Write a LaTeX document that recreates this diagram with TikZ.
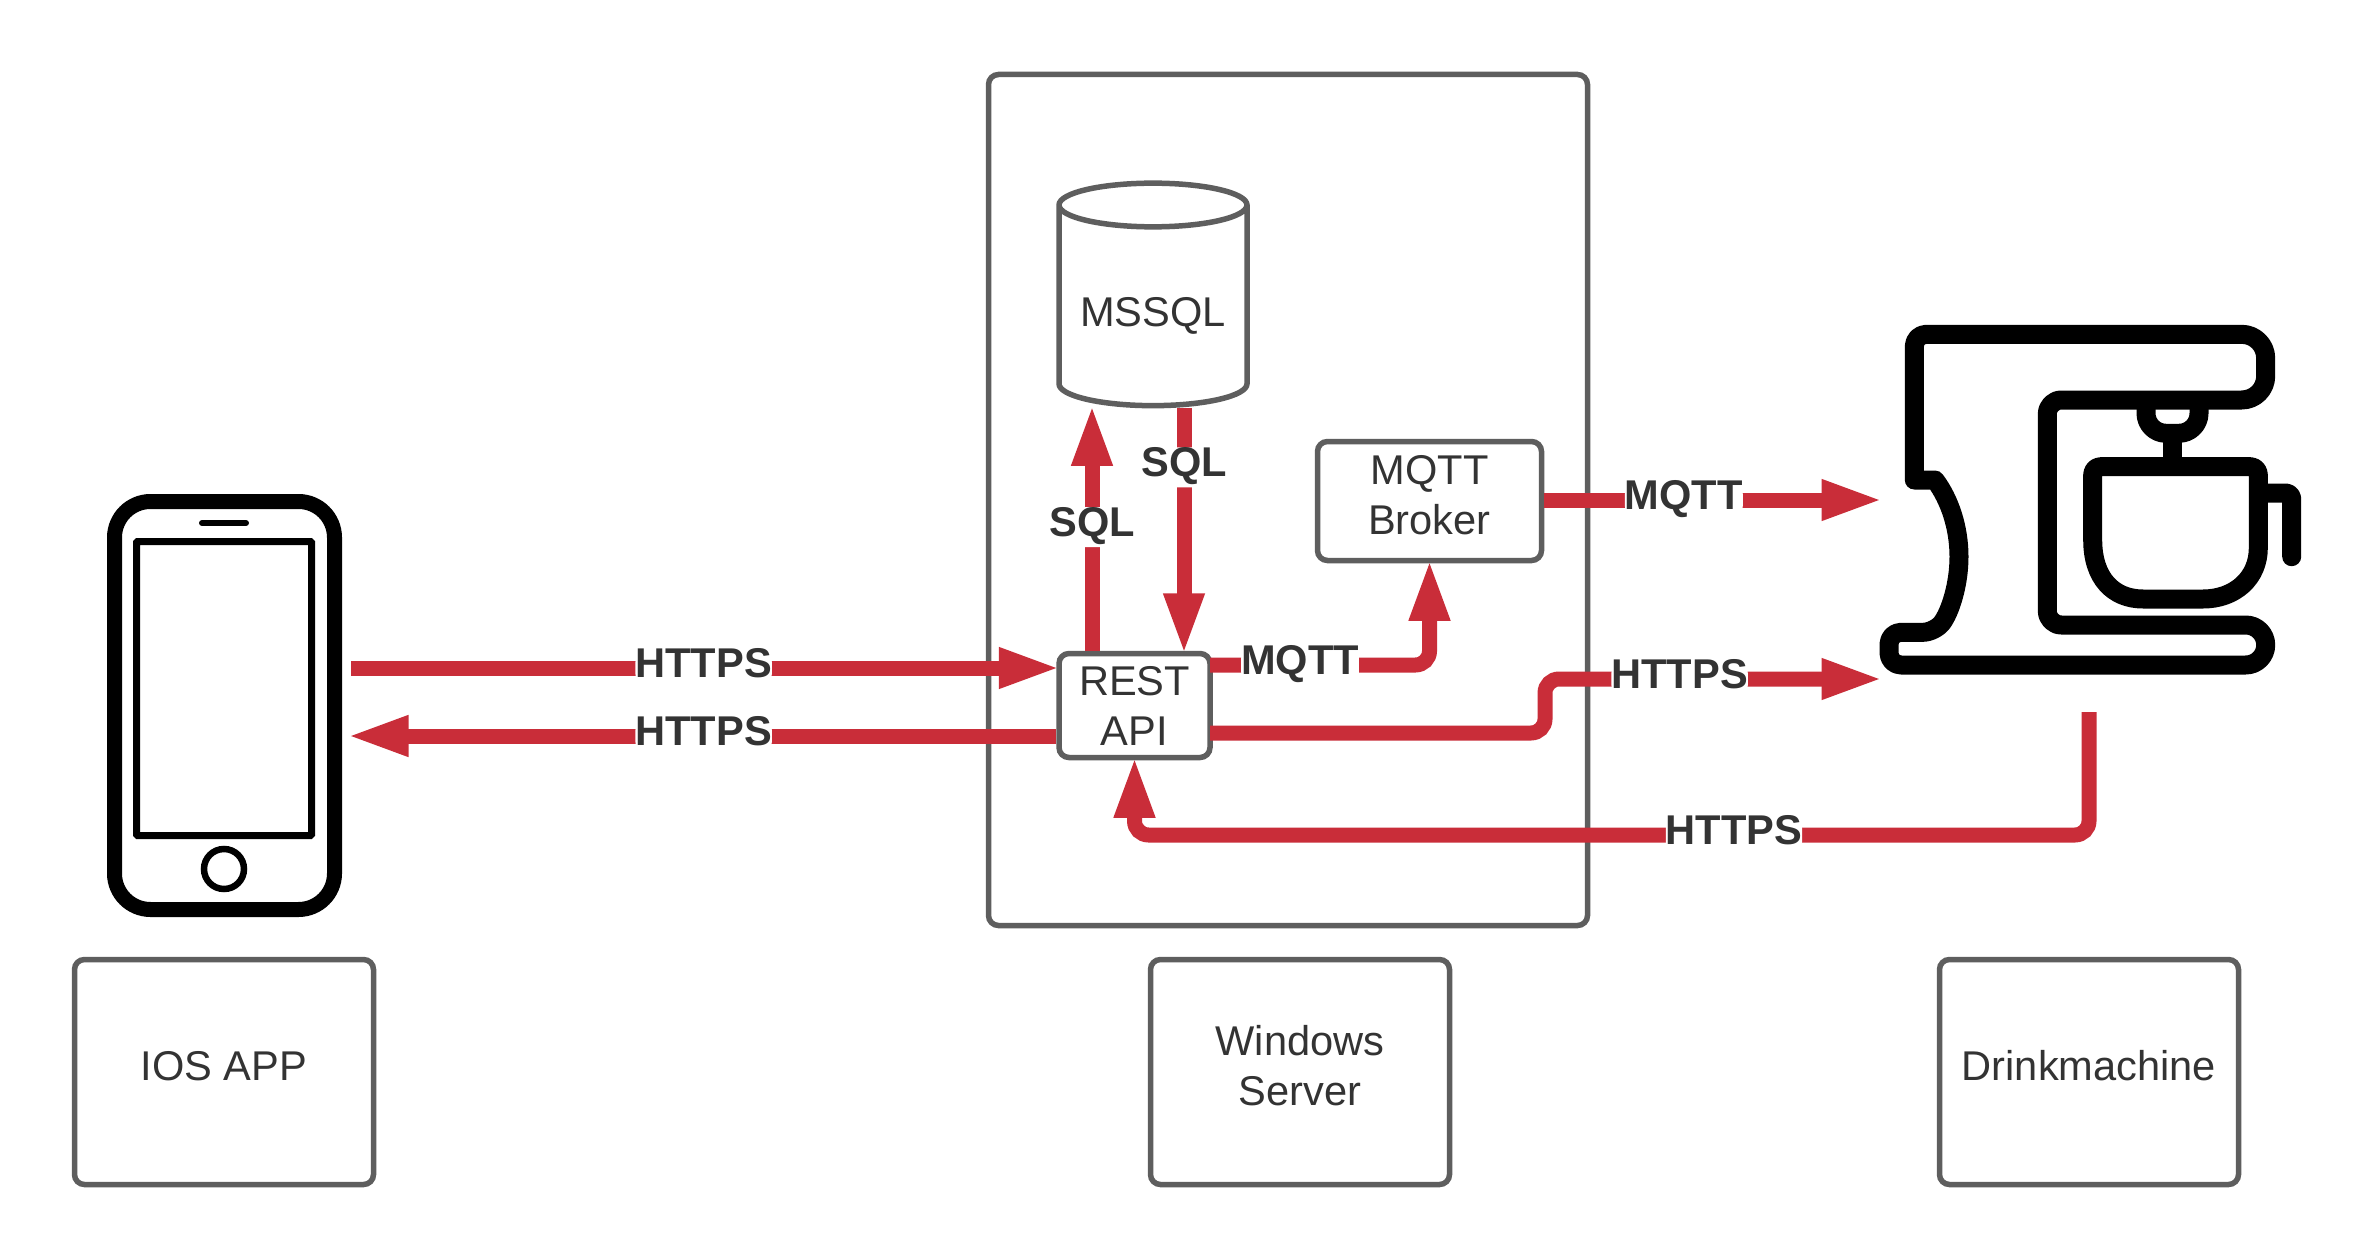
\documentclass[tikz,border=0pt]{standalone}
\usepackage{fontspec}
\setmainfont{Liberation Sans}
\usetikzlibrary{arrows.meta,shapes.geometric}
\definecolor{rouge}{RGB}{201,45,57}
\definecolor{gris}{RGB}{94,94,94}
\definecolor{encre}{RGB}{51,51,51}
\begin{document}
\begin{tikzpicture}[x=1pt,y=-1pt]
% Styles
\tikzstyle{boite}=[draw=gris,line width=5.5pt,rounded corners=10pt,fill=white,text=encre,inner sep=0pt,align=center,font=\fontsize{41.6}{50}\selectfont]
\tikzstyle{base}=[boite,rounded corners=0pt,shape=cylinder,shape border rotate=90,aspect=0.3,minimum width=188pt,minimum height=222.5pt,text height=48pt]
\tikzstyle{legende}=[boite,minimum width=299pt,minimum height=225pt,text depth=13pt]
\tikzstyle{fleche}=[rouge,line width=15pt,rounded corners=14pt,shorten >=-4.5pt,-{Triangle[length=62pt,width=37pt]}]
\tikzstyle{etiquette}=[fill=white,text=encre,inner sep=0pt,text height=29pt,text depth=11pt,font=\fontsize{41.6}{50}\selectfont\bfseries]
\tikzstyle{icone}=[black,line width=19pt,line join=round]
\useasboundingbox (0,0) rectangle (2378,1260);
% Serveur
\node[boite,minimum width=599pt,minimum height=851pt] (serveur) at (1288,500) {};
\node[base] (mssql) at (1153,306.7) {MSSQL};
\node[boite,minimum width=224pt,minimum height=119pt,text depth=13pt] (broker) at (1429.5,501) {MQTT\\Broker};
\node[boite,minimum width=151pt,minimum height=104pt] (rest) at (1134.5,705.5) {REST\\API};
% Legendes
\node[legende] (lgapp) at (224,1072) {IOS APP};
\node[legende] (lgserveur) at (1300,1072) {Windows\\Server};
\node[legende] (lgmachine) at (2089,1072) {Drinkmachine};
% Telephone
\node[draw=black,line width=15pt,rounded corners=36pt,minimum width=220pt,minimum height=408pt] (telephone) at (224.5,705.5) {};
\node[draw=black,line width=7pt,rounded corners=1pt,minimum width=175pt,minimum height=294pt] (ecran) at (224,688.5) {};
\node[draw=black,line width=6.5pt,circle,minimum size=40pt,inner sep=0pt] (bouton) at (224,869) {};
\draw[black,line width=6pt,line cap=round] (202,523) -- (246,523);
% Machine
\draw[icone,rounded corners=12pt] (1914.3,480) -- (1914.3,334.3) -- (2100,334.3)
  [rounded corners=24pt] -- (2265.7,334.3) -- (2265.7,400) [rounded corners=14pt] -- (2047.3,400) -- (2047.3,625)
  [rounded corners=20pt] -- (2265.7,625) -- (2265.7,665) [rounded corners=12pt] -- (1889,665) -- (1889,632.3) -- (1935,632.3)
  [sharp corners] .. controls (1950,612) and (1959,585) .. (1959,556.7) .. controls (1959,528) and (1950,500) .. (1935,480) -- cycle;
\draw[icone,rounded corners=8pt] (2092.7,540) -- (2092.7,466.7) -- (2258.3,466.7) -- (2258.3,540)
  [sharp corners] .. controls (2258.3,578) and (2235,599) .. (2203,599) -- (2143,599) .. controls (2113,599) and (2092.7,578) .. (2092.7,540) -- cycle;
\draw[icone,rounded corners=20pt] (2146,400) -- (2146,433.3) -- (2199,433.3) -- (2199,400);
\draw[icone] (2172.3,433.3) -- (2172.3,466.7);
\draw[icone,rounded corners=6pt,line cap=round] (2262,493) -- (2291.7,493) -- (2291.7,556.7);
% Points libres
\coordinate (appout) at (351,668);
\coordinate (appin) at (351,736);
\coordinate (sqlup) at (1092,652);
\coordinate (sqldown) at (1184,408);
\coordinate (mqttrest) at (1210,665);
\coordinate (httpsrest) at (1210,733);
\coordinate (coude) at (1545,706);
\coordinate (machmqtt) at (1879,500);
\coordinate (machhttps) at (1879,679);
\coordinate (machout) at (2089,712);
\coordinate (retour) at (2089,835);
% Connexions
\draw[fleche] (appout) -- node[etiquette] {HTTPS} (rest.west |- appout);
\draw[fleche] (rest.west |- appin) -- node[etiquette] {HTTPS} (appin);
\draw[fleche] (rest.north -| sqlup) -- node[etiquette,pos=0.51] {SQL} (sqlup |- mssql.south);
\draw[fleche] (sqldown) -- node[etiquette,pos=0.245] {SQL} (sqldown |- rest.north);
\draw[fleche] (mqttrest) -| node[etiquette,pos=0.205] {MQTT} (broker.south);
\draw[fleche] (broker.east |- machmqtt) -- node[etiquette,pos=0.417] {MQTT} (machmqtt);
\draw[fleche] (httpsrest) -- (coude |- httpsrest) -- (coude |- machhttps) -- node[etiquette,pos=0.403] {HTTPS} (machhttps);
\draw[fleche] (machout) -- (retour) -- node[etiquette,pos=0.372] {HTTPS} (retour -| rest.south) -- (rest.south);
\end{tikzpicture}
\end{document}
